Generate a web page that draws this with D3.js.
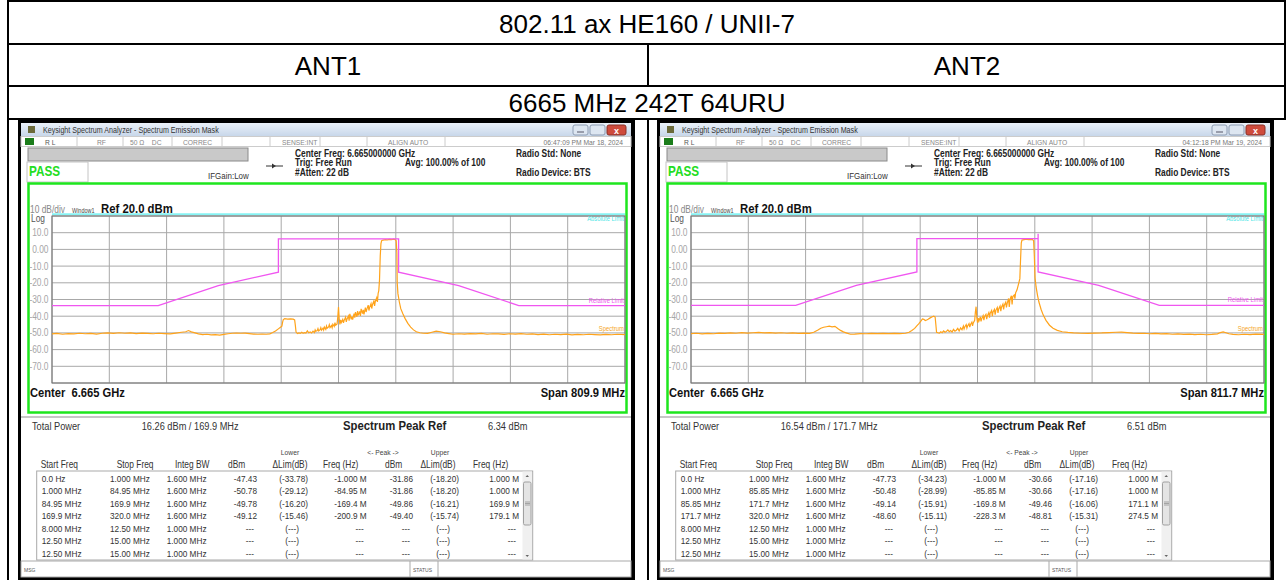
<!DOCTYPE html>
<html>
<head>
<meta charset="utf-8">
<script src="https://cdn.jsdelivr.net/npm/d3@7"></script>
<style>
body{margin:0;background:#fff}
svg{display:block;font-family:"Liberation Sans",Arial,sans-serif}
</style>
</head>
<body>
<svg id="graf" width="1286" height="580"></svg>
<script>
// textos de la tabla exterior
var tituloTabla = '802.11 ax HE160 / UNII-7'
var antenas = ['ANT1', 'ANT2']
var subtitulo = '6665 MHz 242T 64URU'

// eje vertical del analizador
var refLevel = 20, dbDiv = 10, divisiones = 10
var yTicks = [10, 0, -10, -20, -30, -40, -50, -60, -70]
var yTickLabels = ['10.0', '0.00', '-10.0', '-20.0', '-30.0', '-40.0', '-50.0', '-60.0', '-70.0']
var absLimit = 21

// ANT1 ---------------------------------------------------------------
var span1 = 809.9
var fecha1 = '06:47:09 PM Mar 18, 2024'
var total1 = '16.26 dBm / 169.9 MHz'
var peak1 = '6.34 dBm'
var masc1 = [[-404.95, -33.66], [-254.85, -33.66], [-169.9, -21.66], [-84.95, -13.66], [-84.95, 6.34],
             [84.95, 6.34], [84.95, -13.66], [169.9, -21.66], [254.85, -33.66], [404.95, -33.66]]
// traza (offset MHz, dBm)
var traza1 = [[-405,-50.6],[-398,-50.3],[-390,-50.8],[-382,-50.4],[-374,-50.6],[-366,-50.2],[-358,-50.5],[-350,-50.3],
  [-342,-50.7],[-334,-50.2],[-326,-50.0],[-318,-50.3],[-310,-49.9],[-302,-50.2],[-294,-50.0],[-286,-50.4],[-278,-50.1],
  [-270,-50.3],[-262,-50.5],[-254,-50.2],[-246,-50.4],[-238,-50.6],[-230,-50.1],[-222,-49.6],[-216,-49.3],[-212,-48.6],
  [-208,-49.4],[-204,-49.8],[-198,-50.6],[-192,-51.0],[-186,-50.8],[-180,-51.2],[-174,-51.0],[-168,-51.3],[-162,-50.9],
  [-156,-50.5],[-150,-50.2],[-144,-50.1],[-138,-50.2],[-132,-50.1],[-126,-50.4],[-120,-50.7],[-114,-50.8],[-108,-50.7],
  [-102,-50.8],[-97,-50.6],[-93,-49.8],[-89,-48.9],[-85,-47.6],[-82,-46.6],[-80,-46.0],[-79,-43.5],[-78,-42.0],[-76,-41.5],
  [-72,-41.7],[-68,-41.6],[-64,-41.8],[-62,-42.2],[-61,-45.5],[-60,-49.5],[-58,-50.4],[-56,-50.0],[-54,-50.3],[-52,-49.6],
  [-50,-50.2],[-48,-49.8],[-46,-50.1],[-44,-48.7],[-42,-49.9],[-40,-49.4],[-38,-50.0],[-36,-48.9],[-34,-49.8],[-33,-48.2],
  [-32,-49.0],[-30,-48.6],[-29,-47.4],[-28,-48.8],[-26,-48.1],[-25,-46.9],[-24,-48.4],[-22,-47.2],[-21,-48.3],[-20,-46.5],
  [-18,-47.9],[-17,-45.9],[-16,-47.2],[-14,-46.4],[-13,-45.1],[-12,-46.8],[-10,-45.6],[-9,-46.9],[-8,-44.8],[-6,-46.1],
  [-5,-43.9],[-4,-45.4],[-2,-44.6],[-1,-40.5],[0,-34.5],[1,-41.5],[2,-44.9],[3,-42.2],[4,-43.8],[6,-41.9],[7,-44.0],
  [8,-42.5],[10,-40.6],[11,-43.4],[12,-41.8],[14,-39.9],[15,-42.7],[16,-38.6],[18,-41.9],[19,-40.2],[20,-42.1],[22,-38.4],
  [23,-40.9],[24,-37.6],[26,-40.3],[27,-36.9],[28,-39.5],[30,-37.1],[31,-39.8],[32,-35.6],[34,-38.4],[35,-36.2],[36,-38.9],
  [38,-34.8],[39,-37.5],[40,-35.9],[42,-33.4],[43,-36.6],[44,-34.7],[46,-32.5],[47,-35.4],[48,-33.1],[50,-30.9],[51,-33.8],
  [52,-31.2],[54,-29.0],[55,-31.5],[56,-26.4],[57,-24.5],[58,-18.0],[59,-4.0],[60,3.5],[61,5.2],[63,5.6],[66,5.9],[69,5.7],
  [72,6.0],[75,5.8],[78,6.1],[80,5.9],[81.5,5.2],[82.5,-2.0],[83,-20.0],[84,-26.5],[86,-31.5],[88,-35.5],[91,-38.5],
  [94,-41.3],[98,-44.3],[102,-46.5],[106,-48.2],[110,-49.3],[115,-49.9],[120,-50.2],[126,-50.3],[132,-49.6],[138,-48.9],
  [144,-49.3],[150,-50.0],[156,-50.4],[162,-50.8],[170,-50.5],[178,-50.7],[186,-50.4],[194,-50.6],[202,-50.3],[210,-50.8],
  [218,-50.5],[226,-50.6],[234,-50.9],[242,-50.5],[250,-50.7],[258,-50.4],[266,-50.8],[274,-50.6],[282,-51.0],[290,-50.7],
  [298,-51.1],[306,-50.8],[314,-51.0],[322,-50.7],[330,-51.2],[338,-50.9],[346,-51.1],[354,-50.8],[362,-51.0],[370,-51.2],
  [378,-50.9],[386,-51.1],[394,-50.8],[405,-51.0]]
var startFreq1 = ['0.0 Hz', '1.000 MHz', '84.95 MHz', '169.9 MHz', '8.000 MHz', '12.50 MHz', '12.50 MHz']
var stopFreq1 = ['1.000 MHz', '84.95 MHz', '169.9 MHz', '320.0 MHz', '12.50 MHz', '15.00 MHz', '15.00 MHz']
var integBw1 = ['1.600 MHz', '1.600 MHz', '1.600 MHz', '1.600 MHz', '1.000 MHz', '1.000 MHz', '1.000 MHz']
var lowDbm1 = ['-47.43', '-50.78', '-49.78', '-49.12', '---', '---', '---']
var lowLim1 = ['(-33.78)', '(-29.12)', '(-16.20)', '(-15.46)', '(---)', '(---)', '(---)']
var lowFreq1 = ['-1.000 M', '-84.95 M', '-169.4 M', '-200.9 M', '---', '---', '---']
var upDbm1 = ['-31.86', '-31.86', '-49.86', '-49.40', '---', '---', '---']
var upLim1 = ['(-18.20)', '(-18.20)', '(-16.21)', '(-15.74)', '(---)', '(---)', '(---)']
var upFreq1 = ['1.000 M', '1.000 M', '169.9 M', '179.1 M', '---', '---', '---']

// ANT2 ---------------------------------------------------------------
var span2 = 811.7
var fecha2 = '04:12:18 PM Mar 19, 2024'
var total2 = '16.54 dBm / 171.7 MHz'
var peak2 = '6.51 dBm'
var masc2 = [[-405.85, -33.49], [-257.55, -33.49], [-171.7, -21.49], [-85.85, -13.49], [-85.85, 6.51],
             [85.85, 6.51], [85.85, 9.3], [85.85, -13.49], [171.7, -21.49], [257.55, -33.49], [405.85, -33.49]]
var traza2 = [[-406,-50.4],[-398,-50.2],[-390,-50.6],[-382,-50.3],[-374,-50.5],[-366,-50.1],[-358,-50.3],[-350,-50.0],
  [-342,-50.2],[-334,-49.8],[-326,-50.1],[-318,-49.9],[-310,-49.7],[-302,-50.0],[-294,-49.8],[-286,-50.1],[-278,-49.9],
  [-270,-50.2],[-262,-50.0],[-254,-50.3],[-246,-50.1],[-238,-50.3],[-232,-49.6],[-226,-48.3],[-222,-47.2],[-218,-46.6],
  [-214,-46.3],[-210,-46.0],[-206,-46.4],[-202,-46.1],[-198,-47.4],[-194,-48.5],[-190,-49.4],[-185,-50.1],[-180,-50.8],
  [-174,-50.7],[-166,-50.4],[-158,-50.5],[-150,-50.3],[-142,-50.4],[-134,-50.3],[-126,-50.4],[-118,-50.3],[-110,-50.4],
  [-102,-50.2],[-97,-49.6],[-93,-48.6],[-89,-47.3],[-86,-45.8],[-83,-44.5],[-80,-42.8],[-78,-41.6],[-76,-41.9],[-74,-42.6],
  [-72,-42.3],[-70,-41.8],[-67,-41.0],[-64,-40.3],[-62,-40.0],[-60,-40.5],[-59,-45.0],[-58,-49.6],[-56,-49.9],[-54,-50.1],
  [-52,-49.3],[-50,-49.9],[-48,-48.8],[-46,-49.6],[-44,-49.1],[-42,-48.2],[-40,-49.3],[-38,-48.6],[-36,-49.5],[-34,-47.9],
  [-32,-49.0],[-30,-48.4],[-28,-47.3],[-26,-48.8],[-24,-47.0],[-22,-48.1],[-20,-45.9],[-19,-47.6],[-18,-46.4],[-16,-45.0],
  [-15,-47.1],[-14,-45.8],[-12,-44.4],[-11,-46.5],[-10,-45.1],[-8,-43.6],[-7,-45.8],[-6,-44.0],[-4,-42.4],[-3,-37.5],
  [-2,-34.3],[-1,-40.8],[0,-43.8],[1,-41.2],[2,-42.9],[4,-40.4],[5,-43.1],[6,-41.5],[8,-39.6],[9,-42.4],[10,-40.2],
  [12,-38.9],[13,-41.7],[14,-39.8],[16,-37.9],[17,-40.9],[18,-38.2],[20,-36.6],[21,-40.0],[22,-37.4],[24,-35.9],[25,-39.1],
  [26,-36.5],[28,-34.8],[29,-38.0],[30,-35.7],[32,-33.9],[33,-37.0],[34,-34.6],[36,-32.8],[37,-35.9],[38,-33.4],[40,-31.6],
  [41,-34.8],[42,-32.5],[44,-29.4],[45,-34.5],[46,-30.0],[48,-27.8],[49,-33.0],[50,-28.2],[52,-27.3],[53,-29.5],[54,-26.0],
  [56,-24.2],[58,-21.0],[60,-17.5],[61,-6.0],[62,3.8],[63,5.6],[66,5.9],[69,6.1],[72,5.8],[75,6.0],[78,5.9],[79.5,5.2],
  [80.5,-4.0],[81.5,-17.0],[83,-22.5],[85,-27.5],[87,-31.5],[90,-35.8],[93,-39.2],[97,-42.5],[102,-45.4],[107,-47.2],
  [113,-48.5],[120,-49.3],[128,-49.7],[136,-50.0],[146,-50.2],[156,-50.3],[166,-50.1],[176,-50.0],[186,-49.8],[196,-49.6],
  [204,-49.5],[212,-49.8],[220,-50.1],[228,-50.3],[236,-50.2],[244,-50.5],[252,-50.3],[260,-50.6],[268,-50.4],[276,-50.8],
  [284,-50.6],[292,-50.9],[300,-50.7],[308,-51.0],[316,-50.8],[324,-51.1],[332,-50.9],[340,-50.6],[344,-49.8],[348,-49.4],
  [352,-49.9],[356,-50.5],[362,-50.9],[370,-51.1],[378,-50.8],[386,-51.0],[394,-50.7],[406,-50.9]]
var startFreq2 = ['0.0 Hz', '1.000 MHz', '85.85 MHz', '171.7 MHz', '8.000 MHz', '12.50 MHz', '12.50 MHz']
var stopFreq2 = ['1.000 MHz', '85.85 MHz', '171.7 MHz', '320.0 MHz', '12.50 MHz', '15.00 MHz', '15.00 MHz']
var integBw2 = ['1.600 MHz', '1.600 MHz', '1.600 MHz', '1.600 MHz', '1.000 MHz', '1.000 MHz', '1.000 MHz']
var lowDbm2 = ['-47.73', '-50.48', '-49.14', '-48.60', '---', '---', '---']
var lowLim2 = ['(-34.23)', '(-28.99)', '(-15.91)', '(-15.11)', '(---)', '(---)', '(---)']
var lowFreq2 = ['-1.000 M', '-85.85 M', '-169.8 M', '-228.3 M', '---', '---', '---']
var upDbm2 = ['-30.66', '-30.66', '-49.46', '-48.81', '---', '---', '---']
var upLim2 = ['(-17.16)', '(-17.16)', '(-16.06)', '(-15.31)', '(---)', '(---)', '(---)']
var upFreq2 = ['1.000 M', '1.000 M', '171.1 M', '274.5 M', '---', '---', '---']

// la captura está comprimida en horizontal
var SX = 0.84
var NB = '\u00a0'

var svg = d3.select('#graf')
var defs = svg.append('defs')
var grad = defs.append('linearGradient').attr('id', 'barra').attr('x1', 0).attr('x2', 0).attr('y1', 0).attr('y2', 1)
grad.append('stop').attr('offset', '0%').attr('stop-color', '#eaf1f9')
grad.append('stop').attr('offset', '100%').attr('stop-color', '#c8d7ea')

function tx(g, x, y, s, size, o) {
  o = o || {}
  return g.append('text')
    .attr('transform', `translate(${x},${y}) scale(${o.sx || SX},1)`)
    .attr('font-size', size)
    .attr('font-weight', o.bold ? 'bold' : null)
    .attr('fill', o.fill || '#222')
    .attr('text-anchor', o.anchor || 'start')
    .text(s)
}

function linea(g, x1, y1, x2, y2, color, w) {
  g.append('line').attr('x1', x1).attr('y1', y1).attr('x2', x2).attr('y2', y2)
    .attr('stroke', color).attr('stroke-width', w || 1)
}

// I. tabla exterior
var tabla = svg.append('g')
tabla.append('text').attr('x', 647).attr('y', 33).attr('font-size', 26).attr('text-anchor', 'middle').text(tituloTabla)
tabla.append('text').attr('x', 328).attr('y', 74.5).attr('font-size', 26).attr('text-anchor', 'middle').text(antenas[0])
tabla.append('text').attr('x', 967).attr('y', 74.5).attr('font-size', 26).attr('text-anchor', 'middle').text(antenas[1])
tabla.append('text').attr('x', 647).attr('y', 112).attr('font-size', 26).attr('text-anchor', 'middle').text(subtitulo)
;[1, 44, 86, 119].forEach(y => linea(tabla, 8, y, 1286, y, '#000', 2))
linea(tabla, 8, 0, 8, 580, '#000', 2)
linea(tabla, 1285, 0, 1285, 120, '#000', 2)
linea(tabla, 648, 44, 648, 86, '#000', 2)
linea(tabla, 648, 119, 648, 580, '#000', 2)

// II. una captura del analizador
function pantalla(p, idx) {
  var s = svg.append('g').attr('transform', `translate(${p.x0},0)`)

  s.append('rect').attr('x', -2).attr('y', 119).attr('width', 617).attr('height', 461).attr('fill', '#000')
  s.append('rect').attr('x', 1).attr('y', 123).attr('width', 610).attr('height', 454).attr('fill', '#fff')

  // barra de título
  s.append('rect').attr('x', 1).attr('y', 123).attr('width', 610).attr('height', 13).attr('fill', 'url(#barra)')
  s.append('rect').attr('x', 8).attr('y', 126).attr('width', 7).attr('height', 7).attr('fill', '#6b6a3a')
  tx(s, 23, 133, 'Keysight Spectrum Analyzer - Spectrum Emission Mask', 8.5, { fill: '#333' })
  ;[553, 570].forEach(x => s.append('rect').attr('x', x).attr('y', 125).attr('width', 15).attr('height', 10).attr('rx', 2)
      .attr('fill', '#dde6f1').attr('stroke', '#8e9db3'))
  s.append('rect').attr('x', 587).attr('y', 125).attr('width', 19).attr('height', 10).attr('rx', 2)
    .attr('fill', '#cf4b3c').attr('stroke', '#8a3026')
  tx(s, 596.5, 133.5, 'x', 9, { fill: '#fff', bold: true, anchor: 'middle', sx: 1 })
  linea(s, 557, 132, 564, 132, '#556')

  // fila de estado
  s.append('rect').attr('x', 1).attr('y', 136.5).attr('width', 610).attr('height', 10).attr('fill', '#fff').attr('stroke', '#ccc')
  s.append('rect').attr('x', 5).attr('y', 138).attr('width', 9).attr('height', 7).attr('fill', '#1b7d1b')
  ;[57, 103, 152, 202, 250, 300, 347, 425].forEach(x => linea(s, x, 137, x, 146, '#ccc'))
  var gris = { fill: '#888' }
  tx(s, 25, 144.5, 'R' + NB + 'L', 8, { fill: '#555' })
  tx(s, 77, 144.5, 'RF', 8, gris)
  tx(s, 110, 144.5, '50 Ω' + NB + NB + NB + NB + 'DC', 8, gris)
  tx(s, 163, 144.5, 'CORREC', 8, gris)
  tx(s, 262, 144.5, 'SENSE:INT', 8, gris)
  tx(s, 368, 144.5, 'ALIGN AUTO', 8, gris)
  tx(s, 603, 144.5, p.fecha, 8, { fill: '#777', anchor: 'end' })

  // cabecera de medida
  s.append('rect').attr('x', 8).attr('y', 148).attr('width', 220).attr('height', 13).attr('fill', '#c9c9c9').attr('stroke', '#8a8a8a')
  s.append('rect').attr('x', 7).attr('y', 162).attr('width', 61).attr('height', 20).attr('fill', '#fff').attr('stroke', '#c4c4c4')
  tx(s, 9, 175.5, 'PASS', 14, { bold: true, fill: '#22dd22' })
  tx(s, 188, 178.5, 'IFGain:Low', 9.5, { fill: '#333' })
  linea(s, 246, 166, 263, 166, '#333')
  s.append('path').attr('d', 'M252,163.5 L256,166 L252,168.5 Z').attr('fill', '#333')
  tx(s, 275, 156.5, 'Center Freq: 6.665000000 GHz', 10, { bold: true })
  tx(s, 275, 166, 'Trig: Free Run', 10, { bold: true })
  tx(s, 275, 175.5, '#Atten: 22 dB', 10, { bold: true })
  tx(s, 385, 166, 'Avg: 100.00% of 100', 10, { bold: true })
  tx(s, 496, 156.5, 'Radio Std: None', 10, { bold: true })
  tx(s, 496, 175.5, 'Radio Device: BTS', 10, { bold: true })

  // ventana de la traza
  s.append('rect').attr('x', 8.5).attr('y', 183.5).attr('width', 598).attr('height', 229)
    .attr('fill', 'none').attr('stroke', '#1ee61e').attr('stroke-width', 2.5)

  var gl = 32, gr = 605, gt = 216, gb = 383
  var x = d3.scaleLinear().domain([-p.span / 2, p.span / 2]).range([gl, gr])
  var y = d3.scaleLinear().domain([refLevel - divisiones * dbDiv, refLevel]).range([gb, gt])

  // límite absoluto
  linea(s, gl, y(absLimit), gr, y(absLimit), '#86f3f3', 2)

  tx(s, 10, 213, '10 dB/div', 10, { fill: '#888' })
  tx(s, 52, 212.5, 'Window1', 6.5, { fill: '#444' })
  tx(s, 81, 213, 'Ref 20.0 dBm', 13.5, { bold: true, fill: '#111' })
  tx(s, 11, 222, 'Log', 10, { fill: '#555' })

  // rejilla
  var rej = s.append('g')
  d3.range(divisiones + 1).forEach(i => {
    var fx = x(-p.span / 2 + i * p.span / divisiones)
    linea(rej, fx, gt, fx, gb, '#a8a8a8')
    var fy = y(refLevel - i * dbDiv)
    linea(rej, gl, fy, gr, fy, '#a8a8a8')
  })
  rej.append('rect').attr('x', gl).attr('y', gt).attr('width', gr - gl).attr('height', gb - gt)
    .attr('fill', 'none').attr('stroke', '#707070')

  yTicks.forEach((v, i) => tx(s, 28.5, y(v) + 3.5, yTickLabels[i], 10, { fill: '#a6a6a6', anchor: 'end' }))

  tx(s, gr - 1, gt + 5, 'Absolute Limit', 7, { fill: '#4fe6e6', anchor: 'end' })

  s.append('clipPath').attr('id', 'clip' + idx).append('rect')
    .attr('x', gl).attr('y', gt - 8).attr('width', gr - gl).attr('height', gb - gt + 8)
  var area = s.append('g').attr('clip-path', `url(#clip${idx})`)

  var lin = d3.line().x(d => x(d[0])).y(d => y(d[1]))
  area.append('path').attr('d', lin(p.traza))
    .attr('fill', 'none').attr('stroke', '#ffa31a').attr('stroke-width', 1.2)
  area.append('path').attr('d', lin(p.masc))
    .attr('fill', 'none').attr('stroke', '#f056f0').attr('stroke-width', 1.3)

  tx(s, gr - 1, y(p.masc[0][1]) - 3, 'Relative Limit', 7, { fill: '#ee55ee', anchor: 'end' })
  tx(s, gr - 1, y(-40) + 15, 'Spectrum', 7, { fill: '#f5a623', anchor: 'end' })

  tx(s, 10, 397, 'Center' + NB + NB + '6.665 GHz', 13.3, { bold: true, fill: '#111' })
  tx(s, gr, 397, 'Span ' + p.span + ' MHz', 13.3, { bold: true, fill: '#111', anchor: 'end' })

  // III. panel de resultados
  linea(s, 1, 417, 611, 417, '#b5b5b5', 1.5)
  tx(s, 12, 429.5, 'Total Power', 11, { fill: '#333' })
  tx(s, 121.7, 429.5, p.total, 11, { fill: '#333' })
  tx(s, 323, 430, 'Spectrum Peak Ref', 13.5, { bold: true })
  tx(s, 468, 429.5, p.peak, 11, { fill: '#333' })

  tx(s, 270, 455, 'Lower', 8, { fill: '#444', anchor: 'middle' })
  tx(s, 363, 455, '<- Peak ->', 8, { fill: '#444', anchor: 'middle' })
  tx(s, 420, 455, 'Upper', 8, { fill: '#444', anchor: 'middle' })
  var cab = [['Start Freq', 20.7, 'start'], ['Stop Freq', 96.7, 'start'], ['Integ BW', 155, 'start'], ['dBm', 208, 'start'],
             ['ΔLim(dB)', 270, 'middle'], ['Freq (Hz)', 303, 'start'], ['dBm', 365, 'start'], ['ΔLim(dB)', 418, 'middle'], ['Freq (Hz)', 453, 'start']]
  cab.forEach(c => tx(s, c[1], 467.5, c[0], 10, { fill: '#333', anchor: c[2] }))

  s.append('rect').attr('x', 16.7).attr('y', 471).attr('width', 496).attr('height', 89).attr('fill', '#fff').attr('stroke', '#a9a9a9')
  s.append('rect').attr('x', 502.5).attr('y', 471.5).attr('width', 9.5).attr('height', 88).attr('fill', '#f0f0f0')
  s.append('rect').attr('x', 503.5).attr('y', 482).attr('width', 7.5).attr('height', 43).attr('rx', 1.5).attr('fill', '#e4e4e4').attr('stroke', '#a0a0a0')
  s.append('path').attr('d', 'M505.5,477 L507.25,475 L509,477 Z').attr('fill', '#666')
  s.append('path').attr('d', 'M505.5,555 L507.25,557 L509,555 Z').attr('fill', '#666')
  linea(s, 505, 502, 510, 502, '#888', 0.7)
  linea(s, 505, 503.5, 510, 503.5, '#888', 0.7)
  linea(s, 505, 505, 510, 505, '#888', 0.7)

  var cols = [[p.startFreq, 21.7, 'start'], [p.stopFreq, 90, 'start'], [p.integBw, 146.7, 'start'], [p.lowDbm, 237, 'end'],
              [p.lowLim, 288, 'end'], [p.lowFreq, 346.7, 'end'], [p.upDbm, 393, 'end'], [p.upLim, 439, 'end'], [p.upFreq, 499, 'end']]
  s.append('clipPath').attr('id', 'lista' + idx).append('rect').attr('x', 17).attr('y', 472).attr('width', 485).attr('height', 87.5)
  var filas = s.append('g').attr('clip-path', `url(#lista${idx})`)
  cols.forEach(c => {
    c[0].forEach((v, i) => {
      var dx = (v === '(---)') ? -9 : (v === '---' && c[2] === 'end' ? -3 : 0)
      tx(filas, c[1] + dx, 481.5 + i * 12.5, v, 9.8, { fill: '#333', anchor: c[2] })
    })
  })

  // barra de mensajes
  s.append('rect').attr('x', 1).attr('y', 561).attr('width', 610).attr('height', 16).attr('fill', '#fff').attr('stroke', '#a9a9a9')
  linea(s, 390, 561, 390, 577, '#a9a9a9')
  linea(s, 418, 561, 418, 577, '#a9a9a9')
  tx(s, 4, 571.5, 'MSG', 6, { fill: '#555' })
  tx(s, 393, 571.5, 'STATUS', 6, { fill: '#555' })
}

var pantallas = [
  { x0: 20, span: span1, fecha: fecha1, total: total1, peak: peak1, masc: masc1, traza: traza1,
    startFreq: startFreq1, stopFreq: stopFreq1, integBw: integBw1,
    lowDbm: lowDbm1, lowLim: lowLim1, lowFreq: lowFreq1, upDbm: upDbm1, upLim: upLim1, upFreq: upFreq1 },
  { x0: 659, span: span2, fecha: fecha2, total: total2, peak: peak2, masc: masc2, traza: traza2,
    startFreq: startFreq2, stopFreq: stopFreq2, integBw: integBw2,
    lowDbm: lowDbm2, lowLim: lowLim2, lowFreq: lowFreq2, upDbm: upDbm2, upLim: upLim2, upFreq: upFreq2 }
]
pantallas.forEach((p, i) => pantalla(p, i))
</script>
</body>
</html>
